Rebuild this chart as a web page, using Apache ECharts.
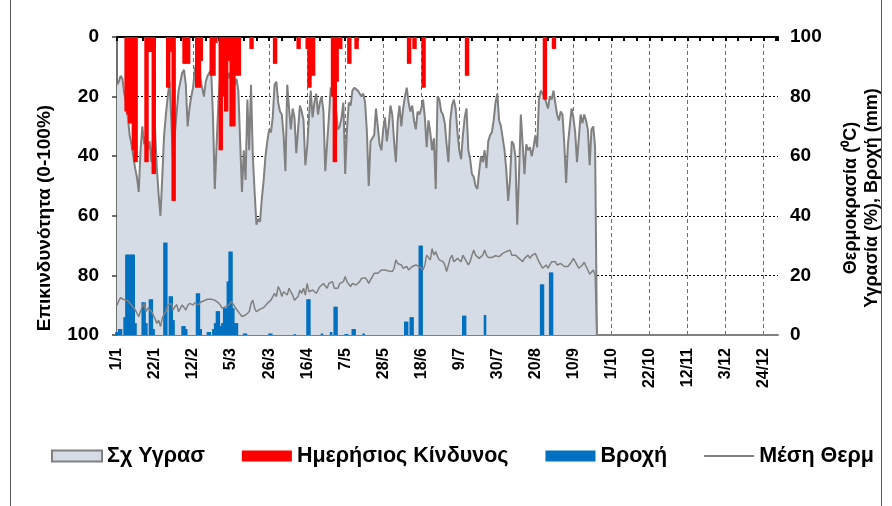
<!DOCTYPE html>
<html>
<head>
<meta charset="utf-8">
<script src="https://cdn.jsdelivr.net/npm/echarts@6/dist/echarts.min.js"></script>
<style>
  html, body { margin: 0; padding: 0; background: #fff; }
  #chart { width: 892px; height: 506px; }
</style>
</head>
<body>
<div id="chart"></div>
<script>
// x labels, one every 21 days starting 1/1
const tickLabels = ['1/1', '22/1', '12/2', '5/3', '26/3', '16/4', '7/5', '28/5', '18/6', '9/7',
  '30/7', '20/8', '10/9', '1/10', '22/10', '12/11', '3/12', '24/12'];

// daily values from 1/1 (day 0)
const humidity = [
  84, 85, 87, 86, 81, 78, 73, 67, 64, 60,
  56, 53, 48, 62, 70, 64, 67, 62, 65, 58,
  67, 69, 56, 47, 40, 53, 67, 74, 80, 85,
  72, 57, 68, 75, 82, 85, 88, 89, 84, 70,
  76, 80, 83, 89, 92, 88, 86, 83, 80, 85,
  87, 88, 89, 73, 49, 64, 78, 87, 89, 84,
  88, 86, 88, 85, 83, 84, 86, 82, 65, 48,
  62, 52, 79, 62, 84, 60, 48, 37, 39, 38,
  46, 52, 60, 65, 69, 68, 73, 84, 85, 78,
  75, 74, 67, 55, 84, 76, 69, 76, 73, 61,
  69, 77, 75, 72, 57, 63, 73, 82, 73, 78,
  81, 74, 78, 80, 75, 55, 64, 73, 83, 81,
  79, 75, 69, 70, 73, 78, 54, 69, 78, 77,
  82, 83, 83, 82, 82, 80, 81, 78, 68, 50,
  65, 66, 67, 76, 70, 64, 62, 69, 73, 65,
  70, 77, 74, 65, 58, 72, 77, 70, 76, 80,
  83, 78, 75, 77, 72, 69, 75, 74, 76, 79,
  73, 63, 72, 68, 62, 66, 49, 80, 79, 75,
  74, 71, 64, 58, 72, 77, 79, 76, 68, 62,
  59, 67, 73, 76, 62, 59, 54, 53, 50, 49,
  55, 60, 58, 62, 56, 65, 67, 68, 72, 78,
  81, 72, 70, 66, 62, 55, 45, 52, 65, 64,
  60, 37, 54, 74, 64, 54, 64, 62, 63, 60,
  63, 67, 63, 79, 82, 82, 80, 78, 76, 80,
  79, 82, 78, 74, 72, 75, 74, 64, 51, 64,
  70, 76, 73, 68, 58, 66, 74, 71, 74, 72,
  69, 57, 69, 70, 63, 0
];

const temperature = [
  10, 11.5, 12.5, 12, 11.8, 11.7, 11.5, 11.2, 10, 9.5,
  8.5, 7.3, 6.2, 8, 9.5, 10.6, 7.8, 9, 8.4, 8,
  7.8, 5.5, 3.9, 5, 2.8, 5.6, 7, 7.8, 10, 10.5,
  10.6, 8.4, 9.5, 10.2, 7.8, 9, 10.1, 9.5, 8.4, 9.8,
  10.6, 10.4, 10.1, 10.8, 11.2, 10.1, 11, 11.2, 11.5, 11.7,
  12, 12.4, 12, 11.7, 11.7, 11.7, 10.8, 10.1, 9, 9.5,
  9.5, 10.1, 10.1, 11.2, 10.5, 9.5, 9, 7.8, 7, 6.2,
  5.6, 6.7, 7.3, 7.8, 10.5, 11.7, 9, 7.8, 8.4, 8.7,
  9, 9.2, 9.5, 10.6, 11.2, 11.7, 12.3, 14, 12.9, 16.2,
  15.1, 12.9, 14.5, 15.1, 13.4, 15.7, 14.5, 13.4, 11.7, 11.7,
  12.9, 15.1, 14, 15.7, 13.4, 17.3, 14.5, 14, 15.1, 14.5,
  14, 15.1, 16.2, 15.7, 17.3, 17.9, 15.7, 17.3, 16.8, 17.9,
  15.7, 16.2, 15.7, 17.3, 16.8, 17.9, 19.6, 17.9, 17.3, 16.2,
  17.3, 17.9, 16.8, 17.3, 17.9, 19, 19.6, 19.2, 18.5, 17.3,
  18.5, 19.6, 20.7, 20.1, 20.7, 21.3, 21.8, 22.4, 21.8, 21.3,
  21.5, 21.8, 21.3, 22.4, 25.2, 24, 24.4, 23.5, 22.4, 22.6,
  23, 21.8, 22.4, 23, 23.3, 23.5, 23.2, 23, 22.4, 21.8,
  23.5, 26.8, 26.3, 25.2, 29, 26.8, 28, 26.3, 25.2, 25.7,
  24.6, 23.5, 21.3, 23.5, 25.7, 26.8, 24.6, 24, 25.7, 25.2,
  24.6, 26.8, 26.3, 24.6, 23.5, 24.6, 26.8, 28.5, 26.8, 26.3,
  25.7, 26.3, 26.8, 28.5, 26.8, 26, 25.7, 26, 26.3, 26.6,
  26.8, 26.3, 26.6, 27.4, 27.7, 28, 28.2, 28.5, 26.8, 26.3,
  26.8, 27.4, 25.7, 25.2, 24.6, 25.7, 26.3, 26.8, 25.7, 26.6,
  27, 27.4, 27.4, 24.6, 23.5, 22.4, 21.8, 23.5, 22.4, 23.5,
  24.6, 24, 24.6, 23.5, 23.7, 24, 23.5, 23, 22.4, 23,
  23.5, 24.6, 25.7, 25.2, 23.5, 22.4, 23, 23.5, 24.4, 23,
  21.8, 20.4, 21, 21.8, 20.1, 0
];

// daily risk (left axis, hanging from the top)
const riskDays = [4, 5, 6, 7, 8, 9, 10, 15, 16, 17, 18, 19, 20, 27, 28, 29, 30, 31,
  36, 37, 38, 39, 43, 44, 45, 46, 51, 52, 53, 54, 56, 57, 58, 59, 60, 61,
  62, 63, 64, 65, 66, 67, 73, 74, 86, 87, 99, 100, 104, 105, 106, 107, 108,
  118, 119, 120, 121, 122, 123, 127, 128, 131, 132, 160, 161, 163, 164, 168, 169,
  192, 193, 235, 236, 240, 241];
const riskValues = [25, 26, 29, 29, 38, 42, 42, 42, 42, 5, 5, 46, 46, 17, 17, 5, 55, 55,
  9, 9, 9, 9, 17, 17, 17, 8, 13, 13, 13, 2, 38, 38, 20, 25, 25, 8,
  30, 30, 30, 13, 13, 13, 4, 4, 9, 9, 4, 4, 4, 17, 17, 13, 13,
  20, 42, 42, 15, 4, 4, 9, 9, 4, 4, 9, 9, 4, 4, 17, 17,
  13, 13, 21, 21, 4, 4];

// rain (mm, right axis)
const rainDays = [0, 1, 2, 3, 5, 6, 7, 8, 9, 10, 11, 15, 16, 17, 19, 20, 21, 27, 28,
  30, 31, 32, 37, 38, 39, 45, 46, 47, 51, 52, 54, 55, 56, 57, 58,
  59, 60, 61, 62, 63, 64, 65, 66, 67, 71, 72, 85, 86, 99, 106, 107, 114,
  119, 121, 122, 127, 128, 131, 132, 137, 160, 161, 163, 164, 168, 169,
  192, 193, 204, 235, 236, 240, 241];
const rainValues = [1, 1, 2, 2, 6, 27, 27, 27, 27, 27, 4, 11, 11, 4, 12, 12, 2, 31, 31,
  13, 13, 5, 3, 3, 2, 14, 14, 2, 1, 1, 2, 4, 8, 8, 3,
  4, 9, 9, 18, 28, 28, 9, 4, 4, 0.5, 0.5, 0.5, 0.5, 0.3, 12, 12, 0.5,
  1, 9.5, 9.5, 0.3, 0.3, 2, 2, 0.5, 4.5, 4.5, 6, 6, 30, 30,
  6.5, 6.5, 6.7, 17, 17, 21, 21];

const FONT = '"Liberation Sans", Arial, sans-serif';
const chart = echarts.init(document.getElementById('chart'));

chart.setOption({
  animation: false,
  backgroundColor: '#fff',
  grid: { left: 117, right: 114, top: 37, bottom: 171 },
  legend: {
    left: 46,
    top: 440,
    itemWidth: 50,
    itemHeight: 11,
    itemGap: 37,
    symbolKeepAspect: true,
    textStyle: { fontFamily: FONT, fontSize: 21.5, fontWeight: 'bold', color: '#000' },
    data: [
      { name: 'Σχ Υγρασ', icon: 'rect', itemStyle: { color: '#d6dce5', borderColor: '#808080', borderWidth: 2 } },
      { name: 'Ημερήσιος Κίνδυνος', icon: 'rect' },
      { name: 'Βροχή', icon: 'rect' },
      { name: 'Μέση Θερμ', icon: 'path://M0,0L50,0L50,2L0,2Z' }
    ]
  },
  xAxis: [
    {
      type: 'value', position: 'bottom', min: 0, max: 365, interval: 21,
      axisLine: { onZero: false, lineStyle: { color: '#808080', width: 2 } },
      axisTick: { show: false },
      axisLabel: {
        rotate: 90, margin: 13, showMaxLabel: false,
        fontFamily: FONT, fontSize: 16, fontWeight: 'bold', color: '#000',
        formatter: v => (v % 21 === 0 && v / 21 < tickLabels.length) ? tickLabels[v / 21] : ''
      },
      // dashed date grid, hidden under the humidity area
      splitLine: { show: true, showMinLine: false, showMaxLine: false,
        lineStyle: { color: '#6e6e6e', width: 1, type: [4, 3] } }
    },
    {
      type: 'value', position: 'top', min: 0, max: 365, interval: 7,
      axisLine: { onZero: false, lineStyle: { color: '#000', width: 2 } },
      axisTick: { show: true, inside: true, length: 4, lineStyle: { color: '#000', width: 2 } },
      axisLabel: { show: false },
      splitLine: { show: false }
    }
  ],
  yAxis: [
    {
      type: 'value', position: 'left', inverse: true, min: 0, max: 100, interval: 20,
      axisLine: { show: true, onZero: false, lineStyle: { color: '#404040', width: 1.5 } },
      axisTick: { show: true, length: 5, lineStyle: { color: '#404040', width: 1.5 } },
      axisLabel: { margin: 18, fontFamily: FONT, fontSize: 19, fontWeight: 'bold', color: '#000' },
      splitLine: { show: false }
    },
    {
      type: 'value', position: 'right', min: 0, max: 100, interval: 20,
      axisLine: { show: false },
      axisTick: { show: false },
      axisLabel: { margin: 12, fontFamily: FONT, fontSize: 19, fontWeight: 'bold', color: '#000' },
      splitLine: { show: true, showMinLine: false, showMaxLine: false,
        lineStyle: { color: '#000', width: 1, type: [2, 2] } }
    }
  ],
  series: [
    {
      name: 'Σχ Υγρασ', type: 'line', yAxisIndex: 1, symbol: 'none', z: 2,
      data: humidity.map((v, i) => [i, v]),
      lineStyle: { color: '#808080', width: 2 },
      itemStyle: { color: '#d6dce5' },
      areaStyle: { color: '#d6dce5', opacity: 1 }
    },
    {
      name: 'Βροχή', type: 'bar', yAxisIndex: 1, barWidth: 2.6, z: 3,
      data: rainDays.map((d, i) => [d, rainValues[i]]),
      itemStyle: { color: '#0070c0' }
    },
    {
      name: 'Μέση Θερμ', type: 'line', yAxisIndex: 1, symbol: 'none', z: 4,
      data: temperature.map((v, i) => [i, v]),
      lineStyle: { color: '#808080', width: 1.5 },
      itemStyle: { color: '#808080' }
    },
    {
      name: 'Ημερήσιος Κίνδυνος', type: 'bar', yAxisIndex: 0, barWidth: 2.6, z: 5,
      data: riskDays.map((d, i) => [d, riskValues[i]]),
      itemStyle: { color: '#ff0000' }
    }
  ],
  graphic: [
    { type: 'line', shape: { x1: 10.5, y1: 0, x2: 10.5, y2: 506 }, style: { stroke: '#595959', lineWidth: 1 } },
    { type: 'line', shape: { x1: 881.5, y1: 0, x2: 881.5, y2: 506 }, style: { stroke: '#595959', lineWidth: 1 } },
    {
      type: 'text', x: 45, y: 218, rotation: Math.PI / 2,
      style: { text: 'Επικινδυνότητα (0-100%)', font: 'bold 19px ' + FONT, fill: '#000',
        textAlign: 'center', textVerticalAlign: 'middle', align: 'center', verticalAlign: 'middle' }
    },
    {
      type: 'text', x: 851, y: 198, rotation: Math.PI / 2,
      style: { text: 'Θερμοκρασία (⁰C)', font: 'bold 18px ' + FONT, fill: '#000',
        textAlign: 'center', textVerticalAlign: 'middle', align: 'center', verticalAlign: 'middle' }
    },
    {
      type: 'text', x: 872, y: 198, rotation: Math.PI / 2,
      style: { text: 'Υγρασία (%), Βροχή (mm)', font: 'bold 18px ' + FONT, fill: '#000',
        textAlign: 'center', textVerticalAlign: 'middle', align: 'center', verticalAlign: 'middle' }
    }
  ]
});
</script>
</body>
</html>
